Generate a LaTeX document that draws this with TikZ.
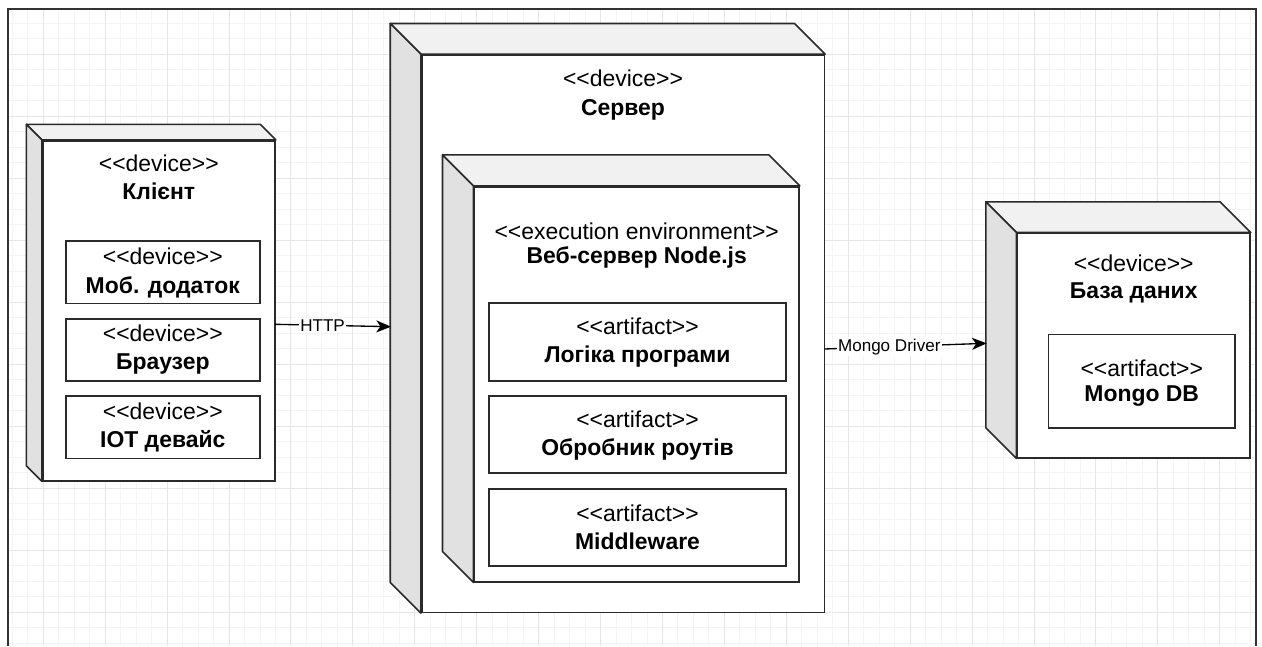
\documentclass[tikz,border=0pt]{standalone}
\usepackage{fontspec}
\setmainfont{Liberation Sans}[Ligatures=TeXOff]
\usetikzlibrary{arrows.meta,calc,fit}

\definecolor{gridminor}{HTML}{F4F4F4}
\definecolor{gridmajor}{HTML}{E6E6E6}
\definecolor{topface}{HTML}{F1F1F1}
\definecolor{sideface}{HTML}{E1E1E1}
\definecolor{outline}{HTML}{2A2A2A}
\definecolor{framecol}{HTML}{333333}

\tikzset{
  front/.style={draw=outline, fill=white, line width=1.2pt, inner sep=0pt},
  box/.style={draw=outline, fill=white, line width=1.2pt, inner sep=0pt},
  facetop/.style={draw=outline, fill=topface, line width=1.2pt, line join=round},
  faceside/.style={draw=outline, fill=sideface, line width=1.2pt, line join=round},
  stereo/.style={font=\fontsize{17.2}{20}\selectfont, anchor=base, inner sep=0pt},
  title/.style={font=\fontsize{17.2}{20}\selectfont\bfseries, anchor=base, inner sep=0pt},
  conn/.style={draw=black, line width=1pt, -{Stealth[length=11pt,width=9pt,inset=3pt]}},
  elabel/.style={font=\fontsize{12.8}{14}\selectfont, fill=white, inner sep=1pt}
}

% top and left faces of a UML node drawn behind its front rectangle
\newcommand\solidfaces[2]{%
  \filldraw[facetop] (#1.north west) -- ++(-#2,-#2) -- ($(#1.north east)+(-#2,-#2)$) -- (#1.north east) -- cycle;
  \filldraw[faceside] (#1.north west) -- ++(-#2,-#2) -- ($(#1.south west)+(-#2,-#2)$) -- (#1.south west) -- cycle;
}

\begin{document}
\begin{tikzpicture}[x=0.75pt,y=-0.75pt]
\useasboundingbox (0,0) rectangle (1262,646);
\fill[white] (0,0) rectangle (1262,646);

% background grid
\begin{scope}
  \clip (8,9) rectangle (1256,646);
  \foreach \i in {-3,...,80} {
    \draw[gridminor, line width=0.75pt] ({43.3+15.48*\i},0) -- ({43.3+15.48*\i},646);
  }
  \foreach \i in {-3,...,42} {
    \draw[gridminor, line width=0.75pt] (0,{54.3+15.5*\i}) -- (1262,{54.3+15.5*\i});
  }
  \foreach \i in {-1,...,20} {
    \draw[gridmajor, line width=0.75pt] ({43.3+61.92*\i},0) -- ({43.3+61.92*\i},646);
  }
  \foreach \i in {-1,...,10} {
    \draw[gridmajor, line width=0.75pt] (0,{54.3+62*\i}) -- (1262,{54.3+62*\i});
  }
\end{scope}
\draw[framecol, line width=1.5pt] (8,646) -- (8,9) -- (1256,9) -- (1256,646);

% client device
\node[front, fit={(42.7,140.7) (275,480.7)}] (client) {};
\solidfaces{client}{15.5}
\node[stereo] (clientS) at (158.8,171.7) {<<device>>};
\node[title] (clientT) at (158.8,199.3) {Клієнт};

\node[box, fit={(65.7,241) (260,303.3)}] (mob) {};
\node[stereo] (mobS) at (162.8,264) {<<device>>};
\node[title] (mobT) at (162.8,293.3) {Моб. додаток};

\node[box, fit={(65.7,319) (260,380.7)}] (browser) {};
\node[stereo] (browserS) at (162.8,341.7) {<<device>>};
\node[title] (browserT) at (162.8,369.3) {Браузер};

\node[box, fit={(65.7,395.7) (260,458.3)}] (iot) {};
\node[stereo] (iotS) at (162.8,419) {<<device>>};
\node[title] (iotT) at (162.8,447.3) {IOT девайс};

% server device
\node[front, fit={(421.7,55) (824.3,612.3)}] (server) {};
\solidfaces{server}{30.7}
\node[stereo] (serverS) at (623,86.7) {<<device>>};
\node[title] (serverT) at (623,115) {Сервер};

% execution environment
\node[front, fit={(474.3,186.7) (799,581.7)}] (exec) {};
\solidfaces{exec}{31}
\node[stereo] (execS) at (636.7,239) {<<execution environment>>};
\node[title] (execT) at (636.7,263) {Веб-сервер Node.js};

\node[box, fit={(489,303) (786,381)}] (logic) {};
\node[stereo] (logicS) at (637.5,334.5) {<<artifact>>};
\node[title] (logicT) at (637.5,362.5) {Логіка програми};

\node[box, fit={(489,396) (786,473)}] (routes) {};
\node[stereo] (routesS) at (637.5,427) {<<artifact>>};
\node[title] (routesT) at (637.5,455) {Обробник роутів};

\node[box, fit={(489,489) (786,566)}] (mw) {};
\node[stereo] (mwS) at (637.5,521) {<<artifact>>};
\node[title] (mwT) at (637.5,549) {Middleware};

% database device
\node[front, fit={(1017.3,233.3) (1250,457.7)}] (db) {};
\solidfaces{db}{30.6}
\node[stereo] (dbS) at (1133.7,271) {<<device>>};
\node[title] (dbT) at (1133.7,298.3) {База даних};

\node[box, fit={(1048.3,334.3) (1235,427.7)}] (mongo) {};
\node[stereo] (mongoS) at (1141.7,376) {<<artifact>>};
\node[title] (mongoT) at (1141.7,401) {Mongo DB};

% connectors
\coordinate (cliOut) at (275,324.3);
\coordinate (srvIn) at (391,326.7);
\coordinate (srvOut) at (824.3,349);
\coordinate (dbIn) at (986.7,343.3);
\draw[conn] (cliOut) -- node[elabel, pos=0.41] (http) {HTTP} (srvIn);
\draw[conn] (srvOut) -- node[elabel, pos=0.40] (drv) {Mongo Driver} (dbIn);
\end{tikzpicture}
\end{document}
